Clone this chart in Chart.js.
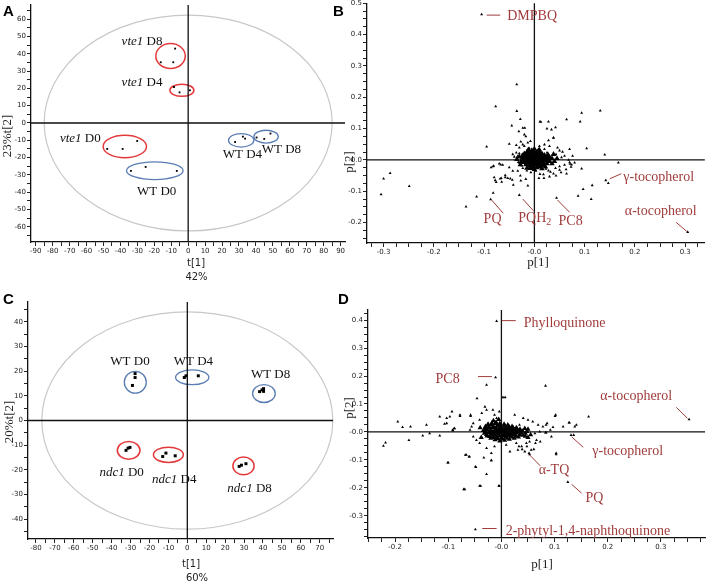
<!DOCTYPE html>
<html>
<head>
<meta charset="utf-8">
<script src="https://cdn.jsdelivr.net/npm/chart.js@4.4.0/dist/chart.umd.min.js"></script>
<style>
body { margin: 0; background: #fff; }
#wrap { position: relative; width: 708px; height: 583px; overflow: hidden; }
canvas { position: absolute; }
.tag { position: absolute; font: bold 15px "Liberation Sans", Arial, sans-serif; line-height: 15px; color: #000; }
</style>
</head>
<body>
<div id="wrap">
  <canvas id="chartA" width="354" height="290" style="left:0;top:0;width:354px;height:290px"></canvas>
  <canvas id="chartC" width="354" height="293" style="left:0;top:290px;width:354px;height:293px"></canvas>
  <canvas id="chartB" width="368" height="290" style="left:340px;top:0;width:368px;height:290px"></canvas>
  <canvas id="chartD" width="368" height="293" style="left:340px;top:290px;width:368px;height:293px"></canvas>
  <div class="tag" style="left:3px;top:3px">A</div>
  <div class="tag" style="left:333px;top:3px">B</div>
  <div class="tag" style="left:3px;top:291px">C</div>
  <div class="tag" style="left:338px;top:291px">D</div>
</div>
<script>
// ---- panel A: scores vte1 / WT ----
const vte1D0 = [[-47.8, -15.0], [-38.7, -15.0], [-30.1, -10.4]];
const vte1D4 = [[-8.4, 20.8], [-5.1, 17.7], [1.0, 18.9]];
const vte1D8 = [[-7.7, 43.0], [-16.2, 35.1], [-8.8, 35.1]];
const wtA_D0 = [[-33.8, -27.7], [-25.1, -25.4], [-6.7, -27.7]];
const wtA_D4 = [[27.7, -11.0], [32.3, -7.9], [33.6, -9.0]];
const wtA_D8 = [[40.4, -8.4], [44.9, -9.2], [48.6, -6.1]];

// ---- panel C: scores ndc1 / WT ----
const wtC_D0 = [[-27.6, 19.0], [-27.6, 17.4], [-29.0, 14.2]];
const wtC_D4 = [[-1.6, 17.4], [-0.7, 18.1], [5.8, 18.1]];
const wtC_D8 = [[38.2, 11.7], [39.5, 12.4], [40.3, 12.9], [40.3, 11.8]];
const ndc1D0 = [[-32.4, -12.1], [-30.3, -10.9], [-31.3, -11.2]];
const ndc1D4 = [[-13.0, -14.6], [-11.3, -13.2], [-6.4, -14.3]];
const ndc1D8 = [[27.4, -18.6], [28.6, -18.1], [31.0, -17.5]];

// group ellipses [cx, cy, rx, ry]
const ringsA_red = [[-10.4, 38.7, 8.7, 7.2], [-3.7, 18.9, 7.1, 3.5], [-37.4, -13.6, 12.8, 6.5]];
const ringsA_blue = [[-19.7, -27.6, 16.7, 5.1], [31.3, -10.0, 7.5, 3.9], [46.0, -7.9, 7.2, 3.7]];
const ringA_t2 = [[0, 0, 85, 62.4]];
const ringsC_blue = [[-27.5, 15.5, 5.8, 4.4], [2.6, 17.5, 8.8, 3.0], [40.5, 10.9, 6.0, 3.6]];
const ringsC_red = [[-31.0, -12.1, 6.0, 3.6], [-10.0, -13.9, 7.9, 3.1], [29.7, -18.4, 5.6, 3.6]];
const ringC_t2 = [[0, 0, 76.9, 44.0]];

// ---- panel B: loadings ----
const loadB = [
  [-0.300, -0.060], [-0.287, -0.042], [-0.305, -0.110], [-0.249, -0.084], [-0.136, -0.149], [-0.115, -0.117],
  [-0.087, -0.126], [-0.082, -0.105], [-0.078, -0.065], [-0.065, -0.070], [-0.082, -0.021], [-0.067, -0.015],
  [-0.058, -0.049], [-0.048, -0.060], [-0.068, -0.060], [-0.095, 0.042], [-0.035, 0.241], [-0.105, 0.464],
  [-0.077, 0.171], [-0.030, -0.112], [0.044, -0.121], [0.094, 0.150], [0.131, 0.157], [0.064, 0.129],
  [0.091, 0.122], [0.104, 0.037], [0.140, 0.017], [0.167, -0.009], [0.094, -0.028], [0.115, -0.081],
  [0.097, -0.093], [0.087, -0.115], [0.113, -0.125], [0.142, -0.065], [0.147, -0.074], [0.305, -0.230],
  [0.071, -0.013], [0.064, -0.044], [0.050, -0.021], [0.038, -0.044], [0.028, -0.034], [0.018, -0.046],
  [0.011, -0.023], [0.038, 0.071], [0.034, 0.097], [0.028, 0.122], [0.011, 0.122], [-0.045, 0.109],
  [-0.036, 0.047], [-0.040, 0.010], [-0.030, 0.021], [-0.032, -0.007], [-0.025, -0.018], [-0.023, -0.026],
  [-0.015, -0.034], [-0.035, 0.156], [-0.028, 0.130], [-0.023, 0.102], [-0.019, 0.102], [-0.031, 0.091],
  [-0.020, 0.081], [-0.017, 0.075], [-0.050, 0.051], [-0.027, 0.058], [-0.023, 0.049], [-0.013, 0.055],
  [-0.008, 0.060], [0.013, 0.121], [0.025, 0.100], [0.042, 0.104], [0.038, 0.070], [0.028, 0.062],
  [0.020, 0.049], [0.030, 0.044], [0.046, 0.039], [0.050, 0.030], [0.056, 0.026], [0.070, 0.034],
  [0.060, 0.013], [0.076, 0.013], [0.043, 0.018], [0.080, -0.009], [0.073, -0.022], [0.063, -0.030],
  [0.053, -0.040], [0.043, -0.050], [0.032, -0.038], [0.023, -0.029], [0.011, -0.045], [0.003, -0.035],
  [-0.007, -0.040], [-0.013, -0.026], [-0.033, -0.035], [-0.043, -0.035], [-0.050, -0.024], [-0.063, -0.016],
  [-0.070, -0.012], [-0.081, -0.019], [-0.086, -0.024], [-0.058, -0.056], [-0.066, -0.058], [-0.076, -0.071],
  [-0.080, -0.056], [-0.053, -0.058], [-0.044, -0.064], [-0.042, -0.080], [-0.028, -0.050], [-0.027, -0.066],
  [-0.017, -0.061], [-0.013, -0.082], [0.009, -0.058], [0.019, -0.058], [0.030, -0.053], [0.042, -0.026],
  [0.050, -0.032], [0.060, -0.016], [0.070, -0.008], [-0.030, 0.039], [-0.020, 0.044], [-0.010, 0.037],
  [0.010, 0.044], [0.020, 0.034], [0.025, 0.023], [-0.036, 0.023], [-0.043, 0.018], [-0.033, 0.013],
  [0.017, 0.013], [0.027, 0.007], [0.036, 0.016], [0.068, 0.000], [0.074, -0.015], [0.054, 0.008]
];
const coreB = [
  [-0.020, 0.020], [-0.015, 0.025], [-0.010, 0.028], [-0.005, 0.030], [0.000, 0.027], [0.005, 0.025],
  [0.010, 0.022], [0.015, 0.020], [0.020, 0.015], [0.025, 0.010], [0.028, 0.003], [0.030, -0.005],
  [0.025, -0.012], [0.020, -0.018], [0.012, -0.022], [0.005, -0.025], [-0.003, -0.024], [-0.010, -0.020],
  [-0.017, -0.015], [-0.022, -0.008], [-0.025, 0.000], [-0.023, 0.008], [-0.018, 0.012], [-0.012, 0.015],
  [-0.006, 0.018], [0.000, 0.015], [0.006, 0.016], [0.012, 0.012], [0.018, 0.006], [0.020, 0.000],
  [0.016, -0.007], [0.010, -0.012], [0.003, -0.015], [-0.004, -0.013], [-0.011, -0.009], [-0.015, -0.002],
  [-0.013, 0.005], [-0.007, 0.008], [0.000, 0.006], [0.007, 0.005], [0.011, 0.000], [0.006, -0.005],
  [-0.001, -0.006], [-0.006, -0.002], [0.000, 0.000], [-0.030, 0.010], [0.035, 0.005], [0.035, -0.012],
  [-0.028, -0.015], [0.000, 0.035], [0.010, 0.032], [-0.012, 0.033], [0.000, -0.030], [0.015, -0.028],
  [-0.015, -0.026], [0.040, -0.005], [0.045, 0.005], [0.038, 0.018], [-0.035, 0.002],
  [-0.018, 0.016], [-0.012, 0.022], [-0.004, 0.024], [0.004, 0.021], [0.011, 0.018], [0.017, 0.014],
  [0.023, 0.006], [0.024, -0.004], [0.019, -0.011], [0.013, -0.017], [0.006, -0.019], [-0.002, -0.019],
  [-0.008, -0.016], [-0.014, -0.010], [-0.019, -0.004], [-0.020, 0.004], [-0.016, 0.009], [-0.009, 0.012],
  [-0.002, 0.012], [0.004, 0.011], [0.010, 0.009], [0.015, 0.004], [0.014, -0.003], [0.008, -0.008],
  [0.001, -0.010], [-0.006, -0.009], [-0.010, -0.004], [-0.008, 0.003], [-0.003, 0.003], [0.003, 0.002],
  [0.008, 0.003], [0.004, -0.003], [-0.003, -0.002], [-0.024, 0.014], [0.027, 0.017], [0.030, 0.009],
  [-0.027, -0.008], [0.022, -0.022], [-0.008, -0.027], [0.008, 0.030]
];

// ---- panel D: loadings ----
const loadD = [
  [-0.222, -0.050], [-0.218, -0.038], [-0.195, 0.037], [-0.186, 0.017], [-0.171, 0.019], [-0.174, -0.029],
  [-0.148, -0.013], [-0.141, 0.025], [-0.135, -0.005], [-0.116, -0.013], [-0.116, 0.055], [-0.107, 0.029],
  [-0.103, 0.049], [-0.101, -0.110], [-0.093, 0.073], [-0.089, 0.013], [-0.091, 0.005], [-0.078, 0.057],
  [-0.071, -0.205], [-0.066, -0.082], [-0.060, -0.088], [-0.058, 0.057], [-0.049, -0.124], [-0.046, 0.120],
  [-0.039, -0.193], [-0.028, -0.151], [-0.028, 0.168], [-0.019, -0.102], [-0.005, -0.193], [-0.009, 0.396],
  [-0.011, 0.195], [0.003, 0.124], [0.007, 0.124], [0.083, 0.165], [0.101, 0.057], [0.128, 0.033],
  [0.138, 0.019], [0.116, 0.019], [0.164, 0.055], [0.353, 0.045], [0.131, -0.011], [0.136, -0.011],
  [0.103, -0.080], [0.125, -0.179], [0.053, -0.080], [-0.049, -0.348],
  [-0.031, 0.090], [-0.028, 0.079], [-0.037, 0.067], [-0.016, 0.079], [-0.013, 0.061], [-0.004, 0.073],
  [-0.009, 0.049], [-0.041, 0.043], [-0.053, 0.031], [-0.056, 0.019], [-0.059, 0.007], [-0.053, -0.017],
  [-0.047, -0.029], [-0.041, -0.040], [-0.028, -0.058], [-0.019, -0.076], [-0.013, -0.052], [0.009, -0.046],
  [0.016, -0.070], [0.031, -0.064], [0.038, -0.052], [0.047, -0.040], [0.053, -0.035], [0.066, -0.029],
  [0.063, -0.005], [0.072, 0.001], [0.084, -0.002], [0.094, -0.017], [0.102, 0.061], [0.127, 0.033],
  [0.141, 0.025], [0.025, 0.061], [0.041, 0.049], [0.050, 0.043], [0.059, 0.037], [0.069, 0.025],
  [0.078, 0.019], [0.034, 0.025], [0.084, 0.025], [0.103, -0.076], [0.056, -0.064], [0.052, -0.076],
  [0.044, -0.070], [0.028, -0.040], [-0.097, 0.055], [-0.078, 0.061], [-0.058, 0.061], [-0.103, 0.031],
  [-0.092, 0.007], [-0.088, 0.013], [-0.048, -0.126], [-0.041, -0.193], [-0.004, -0.193], [-0.069, -0.205],
  [-0.100, -0.110], [-0.068, -0.082], [-0.061, -0.088], [-0.033, -0.092], [-0.019, -0.102],
  [0.083, -0.002], [0.092, 0.007], [0.086, 0.031], [0.097, 0.017], [0.064, -0.040], [0.048, -0.052],
  [0.061, -0.062], [0.073, -0.035], [0.039, -0.062], [0.033, -0.052]
];
const coreD = [
  [-0.030, 0.020], [-0.025, 0.028], [-0.018, 0.032], [-0.010, 0.035], [-0.003, 0.030], [0.005, 0.028],
  [0.012, 0.025], [0.020, 0.020], [0.028, 0.015], [0.035, 0.010], [0.040, 0.003], [0.045, -0.005],
  [0.040, -0.012], [0.032, -0.018], [0.024, -0.022], [0.015, -0.026], [0.006, -0.030], [-0.003, -0.032],
  [-0.012, -0.028], [-0.020, -0.022], [-0.027, -0.014], [-0.032, -0.005], [-0.034, 0.005], [-0.030, 0.012],
  [-0.022, 0.015], [-0.015, 0.020], [-0.007, 0.022], [0.000, 0.018], [0.008, 0.016], [0.016, 0.012],
  [0.024, 0.007], [0.030, 0.000], [0.025, -0.008], [0.017, -0.013], [0.009, -0.017], [0.000, -0.020],
  [-0.009, -0.018], [-0.017, -0.012], [-0.022, -0.004], [-0.020, 0.005], [-0.012, 0.008], [-0.005, 0.010],
  [0.003, 0.008], [0.010, 0.006], [0.017, 0.003], [0.020, -0.003], [0.012, -0.006], [0.004, -0.009],
  [-0.005, -0.008], [-0.012, -0.002], [-0.006, 0.002], [0.002, 0.000], [0.008, -0.002], [-0.015, 0.040],
  [-0.005, 0.045], [0.050, 0.010], [0.055, -0.010], [0.050, -0.020], [-0.038, -0.020], [-0.040, 0.015],
  [-0.026, 0.024], [-0.019, 0.027], [-0.011, 0.029], [-0.002, 0.025], [0.006, 0.023], [0.014, 0.020],
  [0.022, 0.015], [0.030, 0.010], [0.036, 0.004], [0.038, -0.004], [0.034, -0.010], [0.027, -0.015],
  [0.020, -0.018], [0.011, -0.022], [0.002, -0.025], [-0.007, -0.024], [-0.015, -0.020], [-0.022, -0.016],
  [-0.028, -0.009], [-0.030, 0.000], [-0.027, 0.008], [-0.024, 0.015], [-0.017, 0.016], [-0.010, 0.015],
  [-0.002, 0.014], [0.006, 0.012], [0.013, 0.010], [0.021, 0.008], [0.026, 0.003], [0.028, -0.004],
  [0.021, -0.009], [0.013, -0.011], [0.005, -0.014], [-0.004, -0.014], [-0.012, -0.012], [-0.018, -0.007],
  [-0.023, 0.001], [-0.016, 0.002], [-0.009, 0.004], [-0.001, 0.005], [0.007, 0.004], [0.014, 0.002],
  [0.020, 0.000], [0.015, -0.005], [0.007, -0.006], [-0.002, -0.004], [-0.009, -0.005], [0.000, 0.010],
  [0.044, 0.012], [0.048, 0.002], [0.045, -0.015]
];

// ---- tick values / labels ----
const tickA_x = [-90, -80, -70, -60, -50, -40, -30, -20, -10, 0, 10, 20, 30, 40, 50, 60, 70, 80, 90];
const tickA_y = [-60, -50, -40, -30, -20, -10, 0, 10, 20, 30, 40, 50, 60];
const tickC_x = [-80, -70, -60, -50, -40, -30, -20, -10, 0, 10, 20, 30, 40, 50, 60, 70];
const tickC_y = [-40, -30, -20, -10, 0, 10, 20, 30, 40];
const tickB_x = [-0.3, -0.2, -0.1, 0, 0.1, 0.2, 0.3];
const labB_x = ['-0.3', '-0.2', '-0.1', '-0.0', '0.1', '0.2', '0.3'];
const tickB_y = [-0.2, -0.1, 0, 0.1, 0.2, 0.3, 0.4, 0.5];
const labB_y = ['-0.2', '-0.1', '-0.0', '0.1', '0.2', '0.3', '0.4', '0.5'];
const tickD_x = [-0.2, -0.1, 0, 0.1, 0.2, 0.3];
const labD_x = ['-0.2', '-0.1', '-0.0', '0.1', '0.2', '0.3'];
const tickD_y = [-0.3, -0.2, -0.1, 0, 0.1, 0.2, 0.3, 0.4];
const labD_y = ['-0.3', '-0.2', '-0.1', '-0.0', '0.1', '0.2', '0.3', '0.4'];

// ---- annotations (data units) ----
const namesA = [
  { parts: [['vte1', 1], [' D8', 0]], at: [-39.3, 47.0], align: 'left' },
  { parts: [['vte1', 1], [' D4', 0]], at: [-39.3, 23.5], align: 'left' },
  { parts: [['vte1', 1], [' D0', 0]], at: [-75.7, -8.8], align: 'left' },
  { parts: [['WT D0', 0]], at: [-18.6, -39.7], align: 'center' },
  { parts: [['WT D4', 0]], at: [20.4, -18.1], align: 'left' },
  { parts: [['WT D8', 0]], at: [43.4, -15.6], align: 'left' }
];
const namesC = [
  { parts: [['WT D0', 0]], at: [-30.3, 23.8], align: 'center' },
  { parts: [['WT D4', 0]], at: [3.2, 23.8], align: 'center' },
  { parts: [['WT D8', 0]], at: [44.0, 18.4], align: 'center' },
  { parts: [['ndc1', 1], [' D0', 0]], at: [-34.7, -21.1], align: 'center' },
  { parts: [['ndc1', 1], [' D4', 0]], at: [-6.9, -24.1], align: 'center' },
  { parts: [['ndc1', 1], [' D8', 0]], at: [32.9, -27.7], align: 'center' }
];
const tagsB = [
  { text: 'DMPBQ', at: [-0.054, 0.457], from: [-0.095, 0.462], to: [-0.068, 0.462] },
  { text: '\u03b3-tocopherol', at: [0.177, -0.055], from: [0.150, -0.060], to: [0.173, -0.044] },
  { text: '\u03b1-tocopherol', at: [0.180, -0.165], from: [0.282, -0.199], to: [0.303, -0.228] },
  { text: 'PQ', at: [-0.101, -0.191], from: [-0.085, -0.128], to: [-0.062, -0.170] },
  { text: 'PQH', sub: '2', at: [-0.032, -0.185], from: [-0.023, -0.125], to: [-0.002, -0.162] },
  { text: 'PC8', at: [0.048, -0.196], from: [0.046, -0.128], to: [0.070, -0.167] }
];
const tagsD = [
  { text: 'Phylloquinone', at: [0.042, 0.388], from: [0.001, 0.398], to: [0.027, 0.398] },
  { text: 'PC8', at: [-0.124, 0.188], from: [-0.044, 0.198], to: [-0.018, 0.198] },
  { text: '\u03b1-tocopherol', at: [0.186, 0.129], from: [0.329, 0.088], to: [0.350, 0.049] },
  { text: '\u03b3-tocopherol', at: [0.171, -0.070], from: [0.132, -0.017], to: [0.154, -0.055] },
  { text: '\u03b1-TQ', at: [0.070, -0.136], from: [0.053, -0.082], to: [0.073, -0.121] },
  { text: 'PQ', at: [0.158, -0.237], from: [0.132, -0.187], to: [0.151, -0.219] },
  { text: '2-phytyl-1,4-naphthoquinone', at: [0.008, -0.354], from: [-0.036, -0.345], to: [-0.009, -0.345] }
];

const RED = '#e3393b', BLUE = '#5a7db3', GREY = '#c8c8c8', TAGRED = '#a03c3c';
const SERIF = '"Liberation Serif", "Times New Roman", serif';
const SANS = '"DejaVu Sans", Verdana, sans-serif';

function makeScale(axis, min, max, majors, labels, minor, fit) {
  return {
    type: 'linear', min: min, max: max,
    border: { display: true, color: '#111', width: 1.3 },
    grid: { drawOnChartArea: false, drawTicks: true, tickLength: 4, tickColor: '#222', tickWidth: 1 },
    ticks: {
      autoSkip: false, maxRotation: 0, padding: 1, color: '#222',
      font: { family: SANS, size: 7 },
      callback: v => {
        const i = majors.findIndex(m => Math.abs(m - v) < minor / 10);
        return i < 0 ? '' : labels[i];
      }
    },
    afterBuildTicks: s => {
      const list = [];
      for (let k = Math.ceil(min / minor - 1e-6); k * minor <= max + 1e-9; k++) list.push({ value: k * minor });
      s.ticks = list;
    },
    afterFit: s => {
      if (axis === 'x') s.height = fit; else s.width = fit;
      s.paddingTop = s.paddingBottom = s.paddingLeft = s.paddingRight = 0;
    }
  };
}

function dots(list, style, r) {
  return {
    data: list.map(p => ({ x: p[0], y: p[1] })),
    pointStyle: style, pointRadius: r, pointHoverRadius: r,
    backgroundColor: '#000', borderColor: '#000', borderWidth: 0, showLine: false
  };
}

function ring(ctx, xs, ys, e, color, lw) {
  const cx = xs.getPixelForValue(e[0]), cy = ys.getPixelForValue(e[1]);
  const rx = Math.abs(xs.getPixelForValue(e[0] + e[2]) - cx);
  const ry = Math.abs(ys.getPixelForValue(e[1] + e[3]) - cy);
  ctx.beginPath();
  ctx.ellipse(cx, cy, rx, ry, 0, 0, Math.PI * 2);
  ctx.strokeStyle = color; ctx.lineWidth = lw; ctx.stroke();
}

function mixedText(ctx, parts, x, y, align) {
  const fonts = parts.map(p => (p[1] ? 'italic ' : '') + '13px ' + SERIF);
  let total = 0;
  const widths = parts.map((p, i) => { ctx.font = fonts[i]; const w = ctx.measureText(p[0]).width; total += w; return w; });
  let cx = align === 'center' ? x - total / 2 : x;
  ctx.textAlign = 'left'; ctx.textBaseline = 'middle'; ctx.fillStyle = '#111';
  parts.forEach((p, i) => { ctx.font = fonts[i]; ctx.fillText(p[0], cx, y); cx += widths[i]; });
}

function decor(cfg) {
  return {
    id: 'decor',
    beforeDatasetsDraw(chart) {
      const ctx = chart.ctx, a = chart.chartArea, xs = chart.scales.x, ys = chart.scales.y;
      ctx.save();
      (cfg.rings || []).forEach(g => g.list.forEach(e => ring(ctx, xs, ys, e, g.color, g.lw)));
      const x0 = xs.getPixelForValue(0), y0 = ys.getPixelForValue(0);
      ctx.strokeStyle = '#111'; ctx.lineWidth = 1.3;
      ctx.beginPath();
      ctx.moveTo(x0, a.top); ctx.lineTo(x0, a.bottom);
      ctx.moveTo(a.left, y0); ctx.lineTo(a.right, y0);
      ctx.stroke();
      ctx.restore();
    },
    afterDatasetsDraw(chart) {
      const ctx = chart.ctx, xs = chart.scales.x, ys = chart.scales.y;
      ctx.save();
      (cfg.names || []).forEach(n => mixedText(ctx, n.parts, xs.getPixelForValue(n.at[0]), ys.getPixelForValue(n.at[1]), n.align));
      (cfg.tags || []).forEach(t => {
        ctx.strokeStyle = TAGRED; ctx.lineWidth = 1;
        ctx.beginPath();
        ctx.moveTo(xs.getPixelForValue(t.from[0]), ys.getPixelForValue(t.from[1]));
        ctx.lineTo(xs.getPixelForValue(t.to[0]), ys.getPixelForValue(t.to[1]));
        ctx.stroke();
        const px = xs.getPixelForValue(t.at[0]), py = ys.getPixelForValue(t.at[1]);
        ctx.fillStyle = TAGRED; ctx.textAlign = 'left'; ctx.textBaseline = 'middle';
        ctx.font = '14px ' + SERIF;
        ctx.fillText(t.text, px, py);
        if (t.sub) {
          const w = ctx.measureText(t.text).width;
          ctx.font = '10px ' + SERIF;
          ctx.fillText(t.sub, px + w, py + 4);
        }
      });
      // axis titles
      ctx.fillStyle = '#222'; ctx.textAlign = 'center'; ctx.textBaseline = 'middle';
      (cfg.xTitle || []).forEach(t => { ctx.font = t[3]; ctx.fillText(t[0], t[1], t[2]); });
      if (cfg.yTitle) {
        const t = cfg.yTitle;
        ctx.save();
        ctx.translate(t[1], t[2]); ctx.rotate(-Math.PI / 2);
        ctx.font = t[3]; ctx.fillText(t[0], 0, 0);
        ctx.restore();
      }
      ctx.restore();
    }
  };
}

function build(id, datasets, scales, pad, cfg) {
  return new Chart(document.getElementById(id), {
    type: 'scatter',
    data: { datasets: datasets },
    options: {
      responsive: false, animation: false, devicePixelRatio: 1,
      layout: { padding: pad },
      plugins: { legend: { display: false }, tooltip: { enabled: false } },
      scales: scales
    },
    plugins: [decor(cfg)]
  });
}

// A
build('chartA',
  [vte1D0, vte1D4, vte1D8, wtA_D0, wtA_D4, wtA_D8].map(d => dots(d, 'rect', 1.3)),
  {
    x: makeScale('x', -92.8, 92.6, tickA_x, tickA_x.map(String), 5, 48),
    y: makeScale('y', -68.8, 68.2, tickA_y, tickA_y.map(String), 5, 31)
  },
  { left: 0, top: 5, right: 9, bottom: 0 },
  {
    rings: [{ list: ringA_t2, color: GREY, lw: 1.2 }, { list: ringsA_red, color: RED, lw: 1.5 }, { list: ringsA_blue, color: BLUE, lw: 1.3 }],
    names: namesA,
    xTitle: [['t[1]', 196, 263, '10px ' + SANS], ['42%', 196.5, 277, '10px ' + SANS]],
    yTitle: ['23%t[2]', 8, 136, '13px ' + SERIF]
  });

// B
build('chartB',
  [dots(loadB, 'triangle', 1.7), dots(coreB, 'triangle', 3.2)],
  {
    x: makeScale('x', -0.333, 0.339, tickB_x, labB_x, 0.025, 47),
    y: makeScale('y', -0.265, 0.5, tickB_y, labB_y, 0.025, 27)
  },
  { left: 0, top: 0, right: 2, bottom: 0 },
  {
    tags: tagsB,
    xTitle: [['p[1]', 198, 263, '13px ' + SERIF]],
    yTitle: ['p[2]', 10, 162, '13px ' + SERIF]
  });

// C
build('chartC',
  [wtC_D0, wtC_D4, wtC_D8, ndc1D0, ndc1D4, ndc1D8].map(d => dots(d, 'rect', 2.1)),
  {
    x: makeScale('x', -84.2, 77.0, tickC_x, tickC_x.map(String), 5, 44),
    y: makeScale('y', -48.0, 48.0, tickC_y, tickC_y.map(String), 5, 28)
  },
  { left: 0, top: 12, right: 21, bottom: 0 },
  {
    rings: [{ list: ringC_t2, color: GREY, lw: 1.2 }, { list: ringsC_blue, color: BLUE, lw: 1.3 }, { list: ringsC_red, color: RED, lw: 1.5 }],
    names: namesC,
    xTitle: [['t[1]', 191, 274, '10px ' + SANS], ['60%', 197, 288, '10px ' + SANS]],
    yTitle: ['20%t[2]', 10, 132, '13px ' + SERIF]
  });

// D
build('chartD',
  [dots(loadD, 'triangle', 1.7), dots(coreD, 'triangle', 3.0)],
  {
    x: makeScale('x', -0.251, 0.383, tickD_x, labD_x, 0.025, 45),
    y: makeScale('y', -0.379, 0.436, tickD_y, labD_y, 0.025, 28)
  },
  { left: 0, top: 20, right: 2, bottom: 0 },
  {
    tags: tagsD,
    xTitle: [['p[1]', 202, 275, '13px ' + SERIF]],
    yTitle: ['p[2]', 10, 118, '13px ' + SERIF]
  });
</script>
</body>
</html>
